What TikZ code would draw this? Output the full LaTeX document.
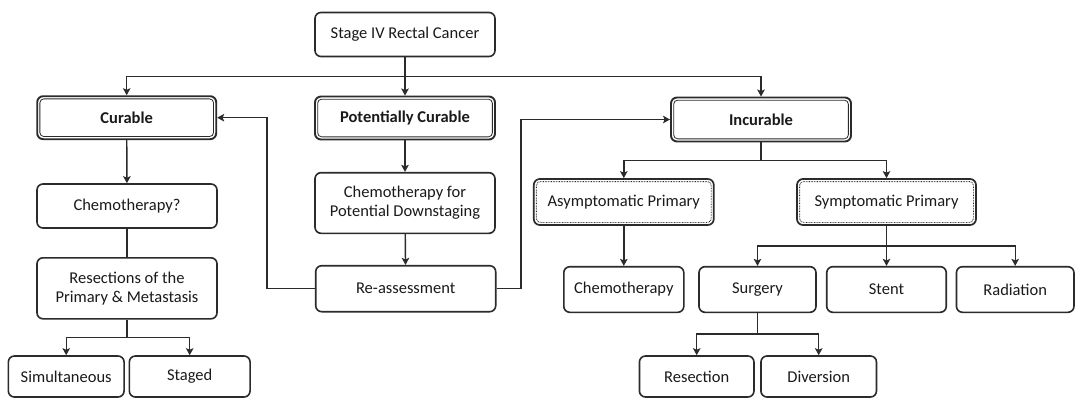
\documentclass[tikz,border=0pt]{standalone}
\usepackage{fontspec}
\setmainfont{Carlito}
\usetikzlibrary{arrows.meta,calc}
\definecolor{linec}{HTML}{2B2B2B}
\definecolor{textc}{HTML}{1A1A1A}
\begin{document}
\begin{tikzpicture}[x=1pt,y=-1pt,
  box/.style={draw=linec, line width=1.6pt, rounded corners=6pt, fill=white,
    align=center, text=textc, inner sep=0pt,
    font=\fontsize{16.5}{19}\selectfont},
  bold box/.style={box, line width=1.9pt, font=\fontsize{16.5}{19}\selectfont\bfseries},
  dot box/.style={box, line width=1.7pt},
  ringline/.style={draw=linec, line width=0.8pt, rounded corners=4pt},
  dotline/.style={draw=linec, line width=0.9pt, rounded corners=4pt,
    dash pattern=on 0.7pt off 0.9pt},
  conn/.style={draw=linec, line width=1.4pt},
  arr/.style={conn, -{Stealth[length=7pt,width=7.5pt,inset=1.5pt]}}]

\useasboundingbox[fill=white] (0,0) rectangle (1075,399);

% top level
\node[box, minimum width=180pt, minimum height=44pt] (stage) at (405,34.5) {Stage IV Rectal Cancer};

% three categories
\node[bold box, minimum width=179pt, minimum height=43pt] (cur) at (126.7,117.7) {Curable};
\node[bold box, minimum width=180pt, minimum height=43pt] (pot) at (405,118) {Potentially Curable};
\node[bold box, minimum width=180pt, minimum height=44pt] (inc) at (761,119.5) {Incurable};

% curable branch
\node[box, minimum width=180pt, minimum height=44pt] (chq) at (127,206) {Chemotherapy?};
\node[box, minimum width=180pt, minimum height=61pt] (res) at (127,288.3) {Resections of the\\Primary \& Metastasis};
\node[box, minimum width=115.7pt, minimum height=41pt] (sim) at (66.2,376.5) {Simultaneous};
\node[box, minimum width=120.7pt, minimum height=41pt] (stg) at (189.7,376.5) {Staged};

% potentially curable branch
\node[box, minimum width=180pt, minimum height=60.6pt] (cfd) at (405,203) {Chemotherapy for\\Potential Downstaging};
\node[box, minimum width=180pt, minimum height=46pt] (rea) at (405.7,288.7) {Re-assessment};

% incurable branch
\node[dot box, minimum width=180pt, minimum height=46pt] (asy) at (623.8,202) {Asymptomatic Primary};
\node[dot box, minimum width=179pt, minimum height=46pt] (sym) at (886.5,202) {Symptomatic Primary};
\node[box, minimum width=120pt, minimum height=45.6pt] (che) at (623.8,289.5) {Chemotherapy};
\node[box, minimum width=117pt, minimum height=45.6pt] (sur) at (757.5,289.5) {Surgery};
\node[box, minimum width=119.5pt, minimum height=45.6pt] (ste) at (886.5,289.5) {Stent};
\node[box, minimum width=117.5pt, minimum height=45.6pt] (rad) at (1015.2,289.5) {Radiation};
\node[box, minimum width=114.5pt, minimum height=41pt] (rsc) at (696.7,376.5) {Resection};
\node[box, minimum width=115.5pt, minimum height=41pt] (div) at (818.7,376.5) {Diversion};

% inner rings of the framed boxes
\foreach \n in {cur,pot,inc}
  \draw[ringline] ([shift={(3.6pt,-3.6pt)}]\n.north west) rectangle ([shift={(-3.6pt,3.6pt)}]\n.south east);
\foreach \n in {asy,sym}
  \draw[dotline] ([shift={(3.4pt,-3.4pt)}]\n.north west) rectangle ([shift={(-3.4pt,3.4pt)}]\n.south east);

% junction points, straight below each parent box
\coordinate (j1) at ($(stage.south)!.5!(pot.north)$);
\coordinate (j2) at ($(res.south)!.5!(res.south |- sim.north)$);
\coordinate (j3) at ($(inc.south)!.5!(inc.south |- asy.north)$);
\coordinate (j4) at ($(sym.south)!.5!(sym.south |- ste.north)$);
\coordinate (j5) at ($(sur.south)!.5!(sur.south |- rsc.north)$);

% connectors
\draw[arr] (stage) -- (pot);
\draw[arr] (j1) -| (cur);
\draw[arr] (j1) -| (inc);

\draw[arr] (cur) -- (chq);
\draw[conn] (chq) -- (res);
\draw[conn] (res.south) -- (j2);
\draw[arr] (j2) -| (sim);
\draw[arr] (j2) -| (stg);

\draw[arr] (pot) -- (cfd);
\draw[arr] (cfd) -- (rea);
\draw[arr] (rea.west) -| ($(cur.east)+(50,0)$) -- (cur.east);
\draw[arr] (rea.east) -- ++(24.6,0) |- (inc.west);

\draw[conn] (inc.south) -- (j3);
\draw[arr] (j3) -| (asy);
\draw[arr] (j3) -| (sym);
\draw[arr] (asy) -- (che);

\draw[arr] (sym) -- (ste);
\draw[arr] (j4) -| (sur);
\draw[arr] (j4) -| (rad);

\draw[conn] (sur.south) -- (j5);
\draw[arr] (j5) -| (rsc);
\draw[arr] (j5) -| (div);
\end{tikzpicture}
\end{document}
